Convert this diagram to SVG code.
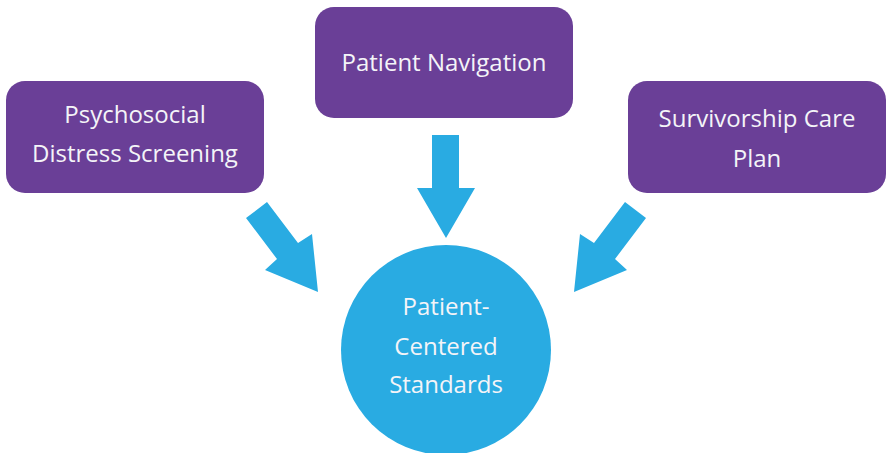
<svg xmlns="http://www.w3.org/2000/svg" width="891" height="453" viewBox="0 0 891 453">
<style>
.box{fill:#6a3f97;}
.arrow{fill:#29abe2;}
.lbl{font-family:"Open Sans","Noto Sans",sans-serif;font-size:24px;fill:#f4f4f8;text-anchor:middle;}
</style>
<rect width="891" height="453" fill="#ffffff"/>
<g id="connectors">
<polygon class="arrow" points="432,135 459,135 459,188 475,188 446,238 417,188 432,188"/>
<polygon class="arrow" points="246,218 267,202 298,243 312,234 318,292 265,270 277,259"/>
<polygon class="arrow" points="646,218 625,202 594,243 580,234 574,292 627,270 615,259"/>
</g>
<g id="node-psychosocial">
<rect class="box" x="6" y="81" width="258" height="112" rx="19"/>
<text class="lbl" x="135" y="123">Psychosocial</text>
<text class="lbl" x="135" y="162">Distress Screening</text>
</g>
<g id="node-navigation">
<rect class="box" x="315" y="7" width="258" height="111" rx="19"/>
<text class="lbl" x="444" y="71">Patient Navigation</text>
</g>
<g id="node-survivorship">
<rect class="box" x="628" y="81" width="258" height="112" rx="19"/>
<text class="lbl" x="757" y="127">Survivorship Care</text>
<text class="lbl" x="757" y="167">Plan</text>
</g>
<g id="node-standards">
<circle class="arrow" cx="446" cy="350" r="105"/>
<text class="lbl" x="446" y="315">Patient-</text>
<text class="lbl" x="446" y="355">Centered</text>
<text class="lbl" x="446" y="393">Standards</text>
</g>
</svg>
